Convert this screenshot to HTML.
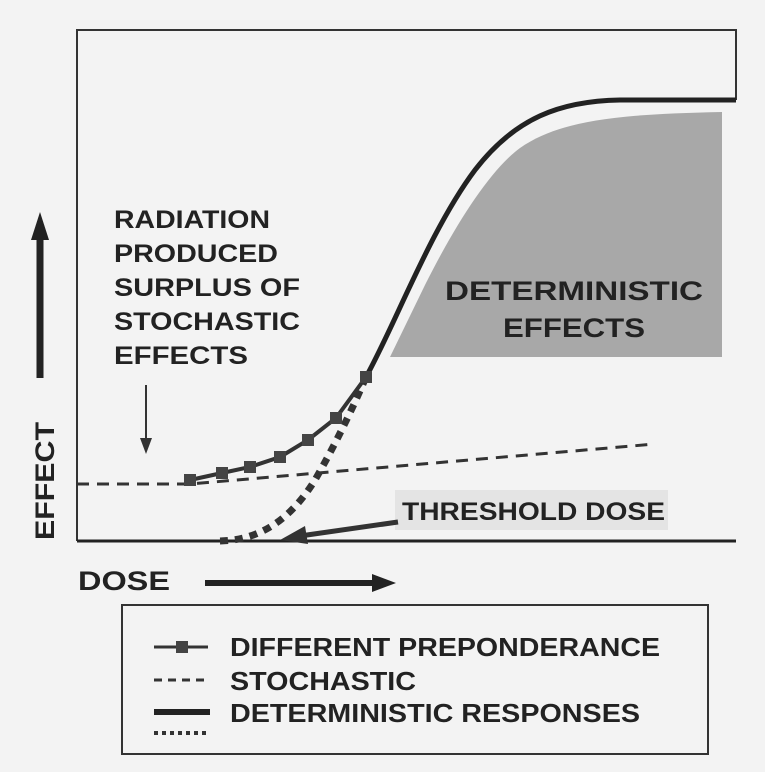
<!DOCTYPE html>
<html><head><style>
html,body{margin:0;padding:0;background:#f3f3f3;}
svg{display:block;}
text{font-family:"Liberation Sans",Arial,sans-serif;font-weight:bold;fill:#222;}
</style></head><body>
<svg width="765" height="772" viewBox="0 0 765 772" xmlns="http://www.w3.org/2000/svg">
<rect width="765" height="772" fill="#f3f3f3"/>
<polyline points="77,541 77,30 736,30 736,100" fill="none" stroke="#333" stroke-width="2"/>
<line x1="77" y1="541" x2="736" y2="541" stroke="#222" stroke-width="3"/>
<path d="M390,357 L425,285 C455,225 490,170 520,148 C560,120 620,114 722,112 L722,357 Z" fill="#a8a8a8"/>
<text x="445" y="300" font-size="27" textLength="258" lengthAdjust="spacingAndGlyphs">DETERMINISTIC</text>
<text x="503" y="337" font-size="27" textLength="142" lengthAdjust="spacingAndGlyphs">EFFECTS</text>
<path d="M366,377 C395,325 430,230 475,170 C515,118 560,101 620,100 L736,100" fill="none" stroke="#222" stroke-width="5"/>
<path d="M77,484 L190,484 L655,444" fill="none" stroke="#333" stroke-width="3" stroke-dasharray="12,8"/>
<path d="M220,541 C260,540 290,520 315,480 C335,445 352,410 366,377" fill="none" stroke="#333" stroke-width="7" stroke-dasharray="8,7"/>
<path d="M190,480 L222,473 L250,467 L280,457 L308,440 L336,418 L366,377" fill="none" stroke="#333" stroke-width="4"/>
<g fill="#444">
<rect x="184" y="474" width="12" height="12"/><rect x="216" y="467" width="12" height="12"/>
<rect x="244" y="461" width="12" height="12"/><rect x="274" y="451" width="12" height="12"/>
<rect x="302" y="434" width="12" height="12"/><rect x="330" y="412" width="12" height="12"/>
<rect x="360" y="371" width="12" height="12"/>
</g>
<rect x="395" y="490" width="273" height="40" fill="#e4e4e4"/>
<text x="402" y="520" font-size="25" textLength="263" lengthAdjust="spacingAndGlyphs">THRESHOLD DOSE</text>
<line x1="398" y1="522" x2="300" y2="536" stroke="#333" stroke-width="5"/>
<polygon points="280,540 305,526 308,544" fill="#333"/>
<g font-size="25">
<text x="114" y="228" textLength="156" lengthAdjust="spacingAndGlyphs">RADIATION</text>
<text x="114" y="262" textLength="164" lengthAdjust="spacingAndGlyphs">PRODUCED</text>
<text x="114" y="296" textLength="186" lengthAdjust="spacingAndGlyphs">SURPLUS OF</text>
<text x="114" y="330" textLength="186" lengthAdjust="spacingAndGlyphs">STOCHASTIC</text>
<text x="114" y="364" textLength="134" lengthAdjust="spacingAndGlyphs">EFFECTS</text>
</g>
<line x1="146" y1="385" x2="146" y2="440" stroke="#333" stroke-width="2"/>
<polygon points="140,438 152,438 146,454" fill="#333"/>
<text transform="translate(54,540) rotate(-90)" font-size="27" textLength="118" lengthAdjust="spacingAndGlyphs">EFFECT</text>
<line x1="40" y1="378" x2="40" y2="238" stroke="#222" stroke-width="7"/>
<polygon points="31,240 49,240 40,212" fill="#222"/>
<text x="78" y="590" font-size="27" textLength="92" lengthAdjust="spacingAndGlyphs">DOSE</text>
<line x1="205" y1="583" x2="375" y2="583" stroke="#222" stroke-width="6"/>
<polygon points="372,574 372,592 396,583" fill="#222"/>
<rect x="122" y="605" width="586" height="149" fill="none" stroke="#333" stroke-width="2"/>
<line x1="154" y1="647" x2="208" y2="647" stroke="#333" stroke-width="3"/>
<rect x="176" y="641" width="12" height="12" fill="#444"/>
<line x1="154" y1="680" x2="210" y2="680" stroke="#333" stroke-width="3" stroke-dasharray="8,6"/>
<line x1="154" y1="712" x2="210" y2="712" stroke="#222" stroke-width="6"/>
<line x1="154" y1="733" x2="210" y2="733" stroke="#333" stroke-width="4" stroke-dasharray="4,4"/>
<g font-size="26">
<text x="230" y="656" textLength="430" lengthAdjust="spacingAndGlyphs">DIFFERENT PREPONDERANCE</text>
<text x="230" y="690" textLength="186" lengthAdjust="spacingAndGlyphs">STOCHASTIC</text>
<text x="230" y="722" textLength="410" lengthAdjust="spacingAndGlyphs">DETERMINISTIC RESPONSES</text>
</g>
</svg>
</body></html>
